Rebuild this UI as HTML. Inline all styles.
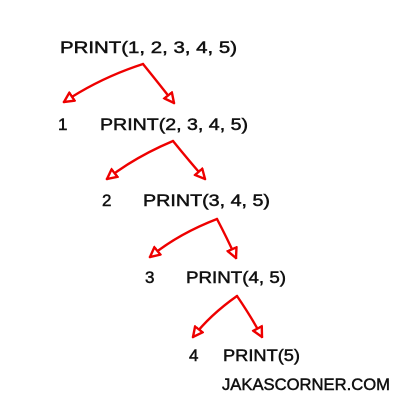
<!DOCTYPE html>
<html><head><style>body{margin:0;background:#fff}svg{display:block}</style></head>
<body>
<svg width="400" height="400" viewBox="0 0 400 400" xmlns="http://www.w3.org/2000/svg">
<defs>
<marker id="a" viewBox="0 0 10 10" refX="9" refY="5" markerWidth="5" markerHeight="5" orient="auto" markerUnits="strokeWidth">
<path d="M1,1 L9,5 L1,9 Z" fill="#fff" stroke="#e00" stroke-width="2"/>
</marker>
</defs>
<g font-family="Liberation Sans, sans-serif" font-size="17" fill="#111" stroke="#111" stroke-width="0.5">
<text x="60" y="53" textLength="177" lengthAdjust="spacingAndGlyphs">PRINT(1, 2, 3, 4, 5)</text>
<text x="58" y="130">1</text>
<text x="100" y="130" textLength="148" lengthAdjust="spacingAndGlyphs">PRINT(2, 3, 4, 5)</text>
<text x="102" y="206">2</text>
<text x="143" y="206" textLength="127" lengthAdjust="spacingAndGlyphs">PRINT(3, 4, 5)</text>
<text x="145" y="283">3</text>
<text x="186" y="283" textLength="100" lengthAdjust="spacingAndGlyphs">PRINT(4, 5)</text>
<text x="189" y="361">4</text>
<text x="223" y="361" textLength="77" lengthAdjust="spacingAndGlyphs">PRINT(5)</text>
<text x="222" y="390" textLength="168" lengthAdjust="spacingAndGlyphs">JAKASCORNER.COM</text>
</g>
<g stroke="#e00" stroke-width="2.4" fill="none" stroke-linecap="round">
<path d="M143,64 Q100,78 64,102" marker-end="url(#a)"/>
<path d="M143,64 Q160,85 174,103" marker-end="url(#a)"/>
<path d="M173,141 Q135,157 107,179" marker-end="url(#a)"/>
<path d="M173,141 Q190,162 205,179" marker-end="url(#a)"/>
<path d="M217,219 Q178,234 150,257" marker-end="url(#a)"/>
<path d="M217,219 Q228,240 236,258" marker-end="url(#a)"/>
<path d="M237,296 Q210,315 193,337" marker-end="url(#a)"/>
<path d="M237,296 Q252,318 262,337" marker-end="url(#a)"/>
</g>
</svg>
</body></html>
